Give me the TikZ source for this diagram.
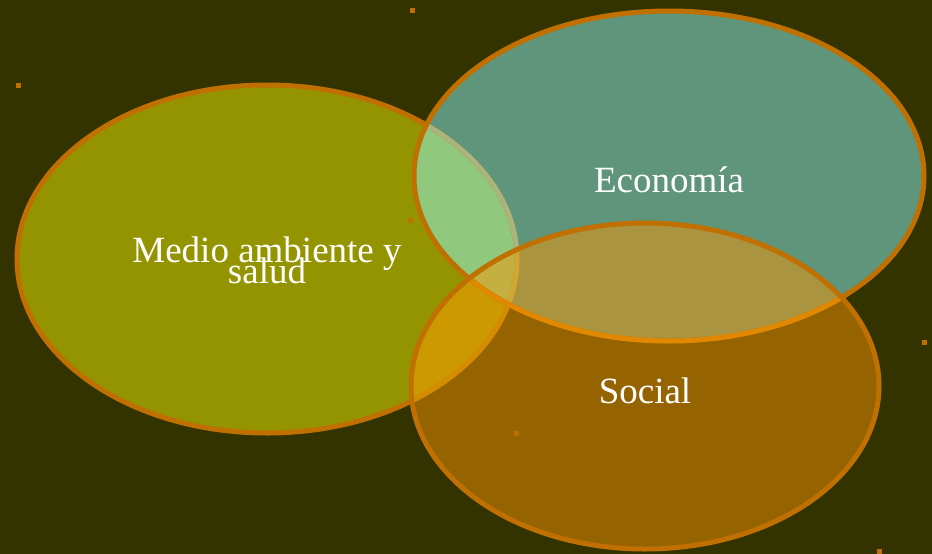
\documentclass[tikz,border=0pt]{standalone}
\usepackage{fontspec}
\setmainfont{Liberation Serif}
\definecolor{bg}{HTML}{333300}
\definecolor{envc}{HTML}{949400}
\definecolor{ecoc}{HTML}{5F957A}
\definecolor{socc}{HTML}{956300}
\definecolor{envEco}{HTML}{90C87E}
\definecolor{envSoc}{HTML}{CC9900}
\definecolor{ecoSoc}{HTML}{AA9440}
\definecolor{allc}{HTML}{C4B040}
\definecolor{rim}{HTML}{C07000}
\definecolor{rimlight}{HTML}{E08800}
\definecolor{rimpale}{HTML}{AAB47E}
\tikzset{
  lbl/.style={text=white, font=\fontsize{37}{21}\selectfont, align=center, inner sep=0pt},
  rimline/.style={draw=rim, line width=5pt},
  dot/.style={fill=rim}
}
\def\envE{(267,259) ellipse [x radius=250pt, y radius=174pt]}
\def\ecoE{(669,176) ellipse [x radius=255pt, y radius=165pt]}
\def\socE{(645,386) ellipse [x radius=234pt, y radius=163pt]}
\begin{document}
\begin{tikzpicture}[x=1pt,y=-1pt]
\useasboundingbox (0,0) rectangle (932,554);
\fill[bg] (0,0) rectangle (932,554);
% dots
\fill[dot] (410,8) rectangle (415,13);
\fill[dot] (16,83) rectangle (21,88);
\fill[dot] (922,340) rectangle (927,345);
\fill[dot] (877,549) rectangle (882,554);
% base fills
\fill[envc] \envE;
\fill[ecoc] \ecoE;
\fill[socc] \socE;
% overlaps
\begin{scope}
  \clip \envE;
  \fill[envEco] \ecoE;
  \fill[envSoc] \socE;
\end{scope}
\begin{scope}
  \clip \ecoE;
  \fill[ecoSoc] \socE;
\end{scope}
\begin{scope}
  \clip \envE;
  \clip \ecoE;
  \fill[allc] \socE;
\end{scope}
\fill[dot] (408,218) rectangle (413,223);
\fill[dot] (514,431) rectangle (519,436);
% outlines
\draw[rimline] \envE;
\begin{scope}
  \clip \ecoE;
  \draw[draw=rimpale, line width=5pt] \envE;
\end{scope}
\begin{scope}
  \clip \socE;
  \draw[draw=rimlight!80!yellow, line width=5pt, opacity=0.6] \envE;
\end{scope}
\draw[rimline] \ecoE;
\begin{scope}
  \clip \socE;
  \draw[draw=rimlight, line width=5pt] \ecoE;
\end{scope}
\draw[rimline] \socE;
% labels
\node[lbl, anchor=base] (eco) at (669,192) {Economía};
\node[lbl, anchor=base] (soc) at (645,403) {Social};
\node[lbl, anchor=base] (env1) at (267,262) {Medio ambiente y};
\node[lbl, anchor=base] (env2) at (267,283) {salud};
\end{tikzpicture}
\end{document}
